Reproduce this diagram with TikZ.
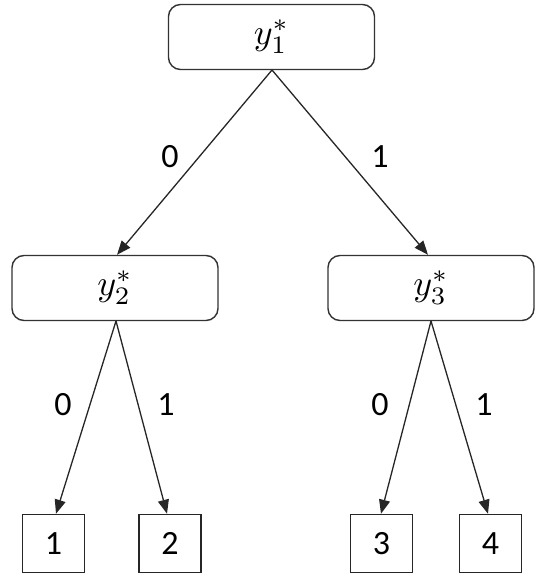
\documentclass[tikz,border=0pt]{standalone}
\usepackage{graphicx}
\usepackage{fontspec}
\setmainfont{Carlito}
\usetikzlibrary{arrows.meta}
\newcommand{\ystar}[1]{\scalebox{3.6}{$y_{#1}^{*}$}}
\begin{document}
\begin{tikzpicture}[x=1pt,y=-1pt,
  inner/.style={draw=black!80,line width=1.4pt,rounded corners=12pt,minimum width=206pt,minimum height=65pt,inner sep=0pt},
  leaf/.style={draw=black!85,line width=1.5pt,minimum width=62pt,minimum height=58pt,inner sep=0pt,font=\fontsize{34}{40}\selectfont},
  edge/.style={draw=black!85,line width=1.3pt,-{Triangle[length=14pt,width=11pt]}},
  lab/.style={font=\fontsize{34}{40}\selectfont,inner sep=0pt}]
\useasboundingbox (0,0) rectangle (547,585);
\node[inner] (r) at (271.5,37) {\ystar{1}};
\node[inner] (a) at (115,288) {\ystar{2}};
\node[inner] (b) at (431,288) {\ystar{3}};
\node[leaf] (l1) at (53.5,543.5) {1};
\node[leaf] (l2) at (170,543.5) {2};
\node[leaf] (l3) at (381.5,543.5) {3};
\node[leaf] (l4) at (490.5,543.5) {4};
\coordinate (rs) at (272,70);
\coordinate (as) at (116,321);
\coordinate (bs) at (431,321);
\draw[edge] (rs) -- (a.north -| 117,0);
\draw[edge] (rs) -- (b.north -| 428,0);
\draw[edge] (as) -- (l1.north -| 56,0);
\draw[edge] (as) -- (l2.north -| 167,0);
\draw[edge] (bs) -- (l3.north -| 381,0);
\draw[edge] (bs) -- (l4.north -| 488,0);
\node[lab] (t0) at (170,157) {0};
\node[lab] (t1) at (380,157) {1};
\node[lab] (a0) at (63,405) {0};
\node[lab] (a1) at (166,405) {1};
\node[lab] (b0) at (380,405) {0};
\node[lab] (b1) at (484,405) {1};
\end{tikzpicture}
\end{document}
